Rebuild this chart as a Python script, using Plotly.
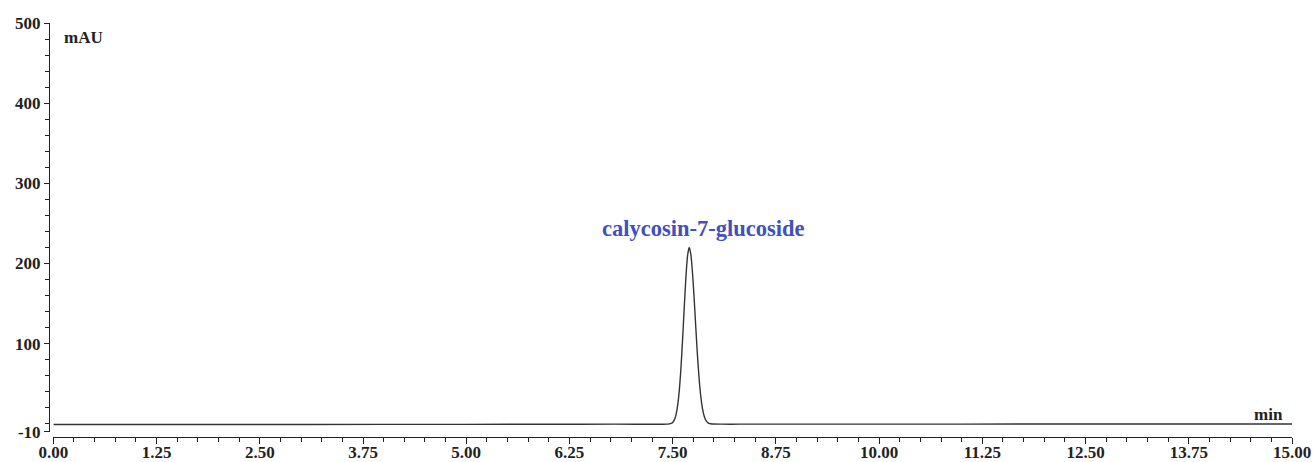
import plotly.graph_objects as go

# Chromatogram (time in min, absorbance in mAU)
time_min = [0.00, 2.00, 4.00, 6.00, 6.80, 7.30, 7.44, 7.48, 7.50, 7.52, 7.54, 7.56, 7.58,
            7.60, 7.62, 7.64, 7.66, 7.68, 7.70, 7.72, 7.74, 7.76, 7.78, 7.80, 7.82,
            7.84, 7.86, 7.88, 7.90, 7.92, 7.94, 7.98, 8.10, 8.30, 9.00, 11.00, 13.00, 15.00]
signal_mau = [-1.0, -1.0, -0.8, -0.6, -0.5, -0.6, -0.5, 0.4, 1.7, 4.8, 11.1, 22.7, 41.6,
              69.3, 105.0, 145.1, 182.5, 209.5, 220.0, 211.5, 188.5, 156.5, 120.2, 85.5, 56.5,
              34.5, 19.4, 10.0, 4.7, 1.8, 0.5, -0.3, -0.5, -0.5, -0.5, -0.4, -0.3, -0.3]

x_ticks = [0.00, 1.25, 2.50, 3.75, 5.00, 6.25, 7.50, 8.75, 10.00, 11.25, 12.50, 13.75, 15.00]
x_tick_labels = ["0.00", "1.25", "2.50", "3.75", "5.00", "6.25", "7.50", "8.75",
                 "10.00", "11.25", "12.50", "13.75", "15.00"]
y_ticks = [-10, 100, 200, 300, 400, 500]
y_tick_labels = ["-10", "100", "200", "300", "400", "500"]

peak_label = "calycosin-7-glucoside"
peak_label_pos = (7.87, 244)

FONT = "Liberation Serif"
INK = "#222222"

fig = go.Figure()
fig.add_trace(go.Scatter(x=time_min, y=signal_mau, mode="lines",
                         line=dict(color="#333333", width=1.4, shape="spline", smoothing=0.6),
                         hoverinfo="skip", showlegend=False))

x_minor = [i * 0.25 for i in range(61)]
y_minor = [v for v in range(0, 501, 20)]

fig.update_layout(
    width=1316, height=462,
    margin=dict(l=49, r=24, t=23, b=25),
    paper_bgcolor="white", plot_bgcolor="white",
    showlegend=False,
    xaxis=dict(
        domain=[0.0035, 1], range=[0, 15], anchor="free", position=0,
        tickvals=x_ticks, ticktext=["<b>" + t + "</b>" for t in x_tick_labels],
        ticks="outside", ticklen=6, tickwidth=1, tickcolor=INK,
        ticklabelstandoff=-6,
        showline=True, linecolor=INK, linewidth=1,
        showgrid=False, zeroline=False, automargin=False,
        tickfont=dict(family=FONT, size=17, color=INK),
        minor=dict(tickvals=x_minor, ticks="outside", ticklen=4, tickcolor=INK, showgrid=False),
    ),
    yaxis=dict(
        domain=[0.0126, 1], range=[-10, 500], anchor="free", position=0,
        tickvals=y_ticks, ticktext=["<b>" + t + "</b>" for t in y_tick_labels],
        ticks="outside", ticklen=5, tickwidth=1, tickcolor=INK,
        showline=True, linecolor=INK, linewidth=1,
        showgrid=False, zeroline=False, automargin=False,
        tickfont=dict(family=FONT, size=17, color=INK),
        minor=dict(tickvals=y_minor, ticks="outside", ticklen=4, tickcolor=INK, showgrid=False),
    ),
    annotations=[
        dict(x=peak_label_pos[0], y=peak_label_pos[1], xref="x", yref="y", text="<b>" + peak_label + "</b>",
             showarrow=False, font=dict(family=FONT, size=22.5, color="#4050c0"),
             xanchor="center", yanchor="middle"),
        dict(x=0.105, y=481.6, xref="x", yref="y", text="<b>mAU</b>", showarrow=False,
             font=dict(family=FONT, size=17, color=INK), xanchor="left", yanchor="middle"),
        dict(x=14.91, y=11.6, xref="x", yref="y", text="<b>min</b>", showarrow=False,
             font=dict(family=FONT, size=17, color=INK), xanchor="right", yanchor="middle"),
    ],
)

fig.write_html("out.html", config={"displayModeBar": False},
               post_script="document.body.style.margin='0';document.body.style.overflow='hidden';")
